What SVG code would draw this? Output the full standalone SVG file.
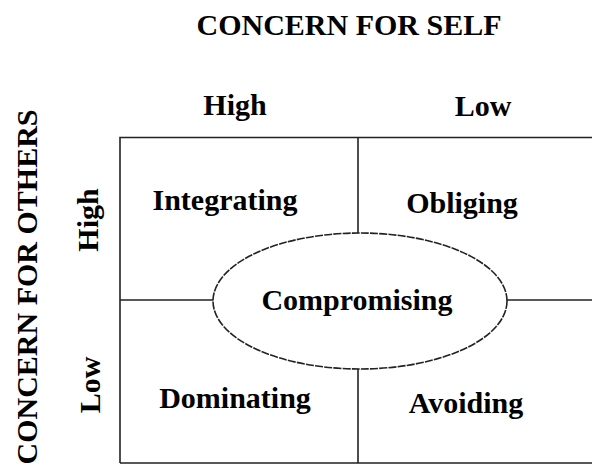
<svg xmlns="http://www.w3.org/2000/svg" width="592" height="471" viewBox="0 0 592 471">
<style>
.t{font-family:"Liberation Serif","Times New Roman",serif;font-weight:bold;font-size:30px;fill:#000;text-anchor:middle}
.ln{stroke:#222;stroke-width:1.6;fill:none}
</style>
<rect width="592" height="471" fill="#fff"/>
<g id="titles">
<text class="t" x="349" y="35">CONCERN FOR SELF</text>
<text class="t" x="235" y="115">High</text>
<text class="t" x="483" y="116">Low</text>
<text class="t" transform="translate(37,287) rotate(-90)" x="0" y="0">CONCERN FOR OTHERS</text>
<text class="t" transform="translate(98,220) rotate(-90)" x="0" y="0">High</text>
<text class="t" transform="translate(100,385) rotate(-90)" x="0" y="0">Low</text>
</g>
<g id="connectors">
<path class="ln" d="M120,463 L120,137.5 L592,137.5 M120,463 L592,463"/>
<path class="ln" d="M358,137.5 L358,233 M358,369 L358,463"/>
<path class="ln" d="M120,300 L213,300 M507,300 L592,300"/>
</g>
<g id="integrating"><text class="t" x="225" y="210">Integrating</text></g>
<g id="obliging"><text class="t" x="462" y="213">Obliging</text></g>
<g id="dominating"><text class="t" x="235" y="408">Dominating</text></g>
<g id="avoiding"><text class="t" x="466" y="413">Avoiding</text></g>
<g id="compromising">
<ellipse class="ln" cx="360" cy="301" rx="147" ry="68" stroke-dasharray="8 1.2"/>
<text class="t" x="357" y="310">Compromising</text>
</g>
</svg>
